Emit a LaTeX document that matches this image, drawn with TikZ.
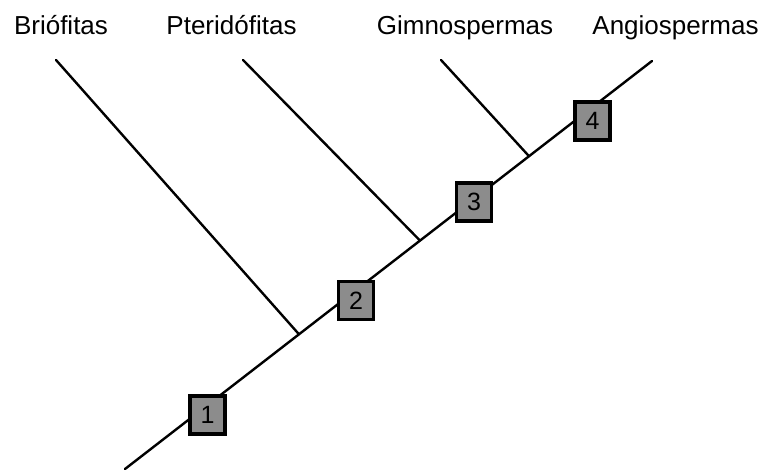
\documentclass[tikz,border=0pt]{standalone}
\usepackage{fontspec}
\setmainfont{Liberation Sans}
\definecolor{boxgray}{RGB}{140,140,140}
\begin{document}
\begin{tikzpicture}[x=1pt,y=1pt,
  taxon/.style={font=\fontsize{26}{30}\selectfont, anchor=base, inner sep=0pt},
  stepbox/.style={draw=black, line width=3.2pt, fill=boxgray, minimum width=35pt, minimum height=38pt, inner sep=0pt, font=\fontsize{25}{29}\selectfont},
  edge/.style={line width=2.4pt, line cap=round}]
\useasboundingbox (0,0) rectangle (762,470);
% labels
\node[taxon] (lb) at (61,435) {Briófitas};
\node[taxon] (lp) at (231.5,435) {Pteridófitas};
\node[taxon] (lg) at (465,435) {Gimnospermas};
\node[taxon] (la) at (675.5,435) {Angiospermas};
% points
\coordinate (root) at (125,1);
\coordinate (tip) at (652,409);
\coordinate (j1) at (299,135.7);
\coordinate (j2) at (420,229.4);
\coordinate (j3) at (529,313.8);
\coordinate (tb) at (56,410);
\coordinate (tp) at (243,410);
\coordinate (tg) at (441,410);
% lines
\draw[edge] (root) -- (tip);
\draw[edge] (tb) -- (j1);
\draw[edge] (tp) -- (j2);
\draw[edge] (tg) -- (j3);
% boxes
\node[stepbox] (b1) at (207.5,55) {1};
\node[stepbox] (b2) at (356,169.5) {2};
\node[stepbox] (b3) at (474,268) {3};
\node[stepbox] (b4) at (592.5,349) {4};
\end{tikzpicture}
\end{document}
